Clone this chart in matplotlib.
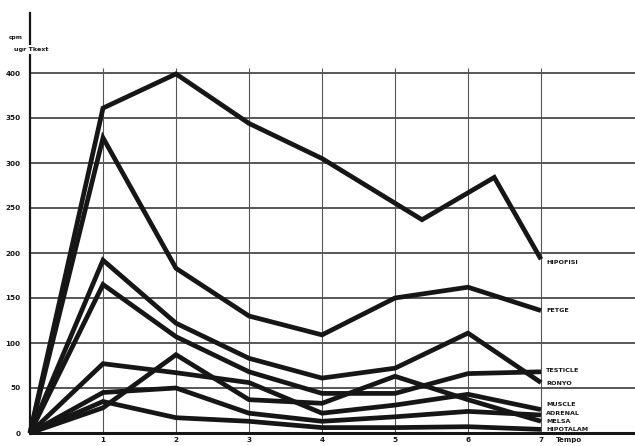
import matplotlib.pyplot as plt

# Uptake curves (cpm per ug tissue) against time, one per organ
TIME = [0, 1, 2, 3, 4, 5, 6, 7]
HIPOFISI_T = [0, 1, 2, 3, 4, 5.37, 6.36, 7]
HIPOFISI = [0, 361, 399, 344, 305, 237, 284, 193]
FETGE = [0, 328, 183, 130, 109, 150, 162, 136]
RONYO = [0, 192, 122, 83, 61, 72, 111, 56]
TESTICLE = [0, 165, 107, 68, 44, 44, 66, 68]
MUSCLE = [0, 77, 67, 56, 22, 31, 43, 26]
ADRENAL = [0, 45, 50, 22, 13, 18, 24, 20]
MELSA = [0, 28, 87, 37, 33, 63, 37, 13]
HIPOTALAM = [0, 35, 17, 13, 6, 6, 7, 4]

LABELS = ["HIPOFISI", "FETGE", "TESTICLE", "RONYO",
          "MUSCLE", "ADRENAL", "MELSA", "HIPOTALAM"]
LABEL_Y = [190, 136, 69, 55, 32, 22, 13, 4]

Y_TICKS = list(range(0, 401, 50))
X_TICKS = [1, 2, 3, 4, 5, 6, 7]

INK = "#161616"

fig = plt.figure(figsize=(6.35, 4.46), dpi=100)
ax = fig.add_axes([30 / 635, 13 / 446, 605 / 635, 420 / 446])
ax.set_xlim(0, 605 / 73)
ax.set_ylim(0, 420 / 0.9)

# grid: horizontal rules across the sheet, vertical ones only up to 400
ax.set_yticks(Y_TICKS)
ax.yaxis.grid(True, color="#2a2a2a", lw=1.1)
ax.vlines(X_TICKS, 0, 406, color="#555555", lw=0.8)
ax.set_axisbelow(True)

series = [(HIPOFISI_T, HIPOFISI), (TIME, FETGE), (TIME, RONYO), (TIME, TESTICLE),
          (TIME, MUSCLE), (TIME, ADRENAL), (TIME, MELSA), (TIME, HIPOTALAM)]
for xs, ys in series:
    ax.plot(xs, ys, color=INK, lw=3.4, solid_joinstyle="miter",
            solid_capstyle="butt", clip_on=False)

for name, y in zip(LABELS, LABEL_Y):
    ax.text(7.07, y, name, fontsize=4.6, fontweight="bold", color=INK,
            va="center", ha="left")

for side in ("top", "right"):
    ax.spines[side].set_visible(False)
ax.spines["left"].set_linewidth(1.6)
ax.spines["left"].set_color(INK)
ax.spines["bottom"].set_linewidth(2.2)
ax.spines["bottom"].set_color(INK)

ax.set_xticks(X_TICKS)
ax.set_xticklabels([str(t) for t in X_TICKS])
ax.tick_params(axis="both", length=0, labelsize=5.2, colors=INK)
ax.tick_params(axis="y", pad=7)
ax.tick_params(axis="x", pad=3)
for lbl in ax.get_xticklabels() + ax.get_yticklabels():
    lbl.set_fontweight("bold")

ax.text(7.2, -7.5, "Tempo", fontsize=5, fontweight="bold", color=INK,
        ha="left", va="center")

# unit label sits on the y axis, blanking a short stretch of it
ax.text(-0.1, 440, "cpm", fontsize=4.2, fontweight="bold", color=INK,
        ha="right", va="center")
ax.text(-0.22, 426, "ugr Tkext", fontsize=4.6, fontweight="bold", color=INK,
        ha="left", va="center",
        bbox=dict(facecolor="white", edgecolor="none", pad=1.2))

fig.savefig("out.png", dpi=100, facecolor="white")
